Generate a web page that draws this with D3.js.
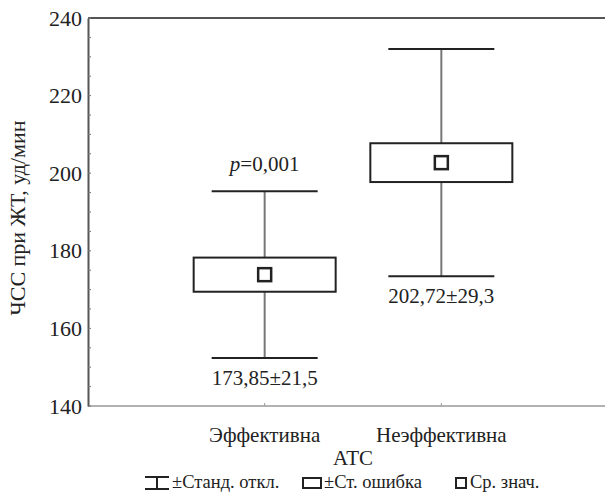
<!DOCTYPE html>
<html>
<head>
<meta charset="utf-8">
<script src="https://cdn.jsdelivr.net/npm/d3@7"></script>
</head>
<body style="margin:0">
<div id="chart"></div>
<script>
// Group statistics: heart rate during VT by ATP outcome
const categories = ["Эффективна", "Неэффективна"];
const means = [173.85, 202.72];
const stdDevs = [21.5, 29.3];
const stdErrs = [4.4, 5.0];
const valueLabels = ["173,85±21,5", "202,72±29,3"];
const yTicks = [140, 160, 180, 200, 220, 240];
const yMinorTicks = d3.range(140, 241, 5);
const legendLabels = ["±Станд. откл.", "±Ст. ошибка", "Ср. знач."];

const width = 605, height = 493;
const FONT = "Liberation Serif";
const INK = "#222";

const svg = d3.select("#chart").append("svg")
  .attr("width", width).attr("height", height);

const plotLeft = 88, plotRight = 618, plotTop = 18, plotBottom = 406;

const x = d3.scalePoint().domain(categories).range([plotLeft, plotRight]).padding(1);
const y = d3.scaleLinear().domain([140, 240]).range([plotBottom, plotTop]);

function label(sel, size) {
  return sel.attr("font-family", FONT).attr("font-size", size).attr("fill", INK);
}

// frame: top and bottom lines across the plot
svg.append("line").attr("x1", plotLeft).attr("x2", plotRight)
  .attr("y1", plotTop).attr("y2", plotTop)
  .attr("stroke", "#555").attr("stroke-width", 2);
svg.append("line").attr("x1", plotLeft).attr("x2", plotRight)
  .attr("y1", plotBottom).attr("y2", plotBottom)
  .attr("stroke", "#999").attr("stroke-width", 1.5);

// y axis
const yAxis = d3.axisLeft(y).tickValues(yTicks).tickSize(0).tickPadding(6)
  .tickFormat(d3.format("d"));
const gy = svg.append("g").attr("transform", `translate(${plotLeft},0)`).call(yAxis);
gy.attr("font-family", FONT).attr("font-size", 22);
gy.select(".domain").attr("stroke", "#555").attr("stroke-width", 2);
label(gy.selectAll(".tick text"), 22);

// small inner ticks along the y axis
svg.append("g").selectAll("line").data(yMinorTicks).join("line")
  .attr("x1", plotLeft).attr("x2", plotLeft + 3)
  .attr("y1", d => y(d)).attr("y2", d => y(d))
  .attr("stroke", "#777").attr("stroke-width", 1);

// small ticks on the bottom line at category positions
svg.append("g").selectAll("line").data(categories).join("line")
  .attr("x1", d => x(d)).attr("x2", d => x(d))
  .attr("y1", plotBottom).attr("y2", plotBottom - 3)
  .attr("stroke", "#999").attr("stroke-width", 1);

// y title
label(svg.append("text"), 22)
  .attr("transform", `translate(25,${(plotTop + plotBottom) / 2 + 6}) rotate(-90)`)
  .attr("text-anchor", "middle")
  .text("ЧСС при ЖТ, уд/мин");

// category labels
label(svg.append("g").selectAll("text").data(categories).join("text"), 21)
  .attr("x", d => x(d)).attr("y", 442)
  .attr("text-anchor", "middle")
  .text(d => d);

// x title
label(svg.append("text"), 21)
  .attr("x", (x(categories[0]) + x(categories[1])) / 2).attr("y", 465)
  .attr("text-anchor", "middle").text("АТС");

// box-whisker groups
const boxW = 142, capW = 106, meanS = 13;
const groups = svg.append("g").selectAll("g").data(categories).join("g");

groups.append("line")
  .attr("x1", d => x(d)).attr("x2", d => x(d))
  .attr("y1", (d, i) => y(means[i] + stdDevs[i]))
  .attr("y2", (d, i) => y(means[i] - stdDevs[i]))
  .attr("stroke", "#777").attr("stroke-width", 2);

groups.append("line")
  .attr("x1", d => x(d) - capW / 2).attr("x2", d => x(d) + capW / 2)
  .attr("y1", (d, i) => y(means[i] + stdDevs[i]))
  .attr("y2", (d, i) => y(means[i] + stdDevs[i]))
  .attr("stroke", INK).attr("stroke-width", 2);

groups.append("line")
  .attr("x1", d => x(d) - capW / 2).attr("x2", d => x(d) + capW / 2)
  .attr("y1", (d, i) => y(means[i] - stdDevs[i]))
  .attr("y2", (d, i) => y(means[i] - stdDevs[i]))
  .attr("stroke", INK).attr("stroke-width", 2);

groups.append("rect")
  .attr("x", d => x(d) - boxW / 2).attr("width", boxW)
  .attr("y", (d, i) => y(means[i] + stdErrs[i]))
  .attr("height", (d, i) => y(means[i] - stdErrs[i]) - y(means[i] + stdErrs[i]))
  .attr("fill", "#fff").attr("stroke", INK).attr("stroke-width", 2);

groups.append("rect")
  .attr("x", d => x(d) - meanS / 2).attr("width", meanS)
  .attr("y", (d, i) => y(means[i]) - meanS / 2).attr("height", meanS)
  .attr("fill", "#fff").attr("stroke", INK).attr("stroke-width", 2.5);

// value labels under the lower whiskers
label(groups.append("text"), 21)
  .attr("x", d => x(d))
  .attr("y", (d, i) => y(means[i] - stdDevs[i]) + 27)
  .attr("text-anchor", "middle")
  .text((d, i) => valueLabels[i]);

// significance label above the first group
const pLab = label(svg.append("text"), 21)
  .attr("x", x(categories[0])).attr("y", y(means[0] + stdDevs[0]) - 20)
  .attr("text-anchor", "middle");
pLab.append("tspan").attr("font-style", "italic").text("p");
pLab.append("tspan").text("=0,001");

// legend
const legY = 488;
const leg = svg.append("g");
// whisker glyph
leg.append("line").attr("x1", 145).attr("x2", 169).attr("y1", 477).attr("y2", 477)
  .attr("stroke", INK).attr("stroke-width", 2);
leg.append("line").attr("x1", 145).attr("x2", 169).attr("y1", 489).attr("y2", 489)
  .attr("stroke", INK).attr("stroke-width", 2);
leg.append("line").attr("x1", 157).attr("x2", 157).attr("y1", 477).attr("y2", 489)
  .attr("stroke", INK).attr("stroke-width", 2);
label(leg.append("text"), 18.5).attr("x", 172).attr("y", legY).text(legendLabels[0]);
// box glyph
leg.append("rect").attr("x", 303).attr("y", 478).attr("width", 18).attr("height", 10)
  .attr("fill", "#fff").attr("stroke", INK).attr("stroke-width", 2);
label(leg.append("text"), 18.5).attr("x", 324).attr("y", legY).text(legendLabels[1]);
// mean glyph
leg.append("rect").attr("x", 456).attr("y", 478).attr("width", 10).attr("height", 10)
  .attr("fill", "#fff").attr("stroke", INK).attr("stroke-width", 2);
label(leg.append("text"), 18.5).attr("x", 470).attr("y", legY).text(legendLabels[2]);
</script>
</body>
</html>
